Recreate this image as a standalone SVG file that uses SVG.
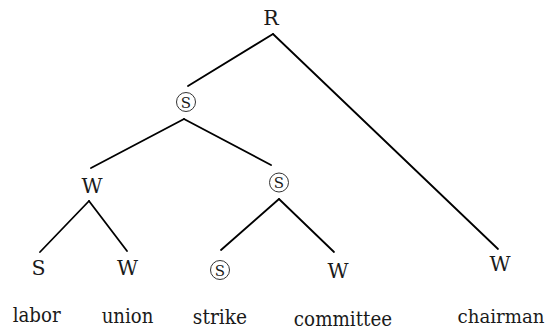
<svg xmlns="http://www.w3.org/2000/svg" width="550" height="329" viewBox="0 0 550 329">
  <style>
    text { font-family: 'DejaVu Serif', serif; fill: #1a1a1a; text-anchor: middle; }
    .lbl { font-size: 20.5px; }
    .word { font-size: 21px; }
    .ring { fill: none; stroke: #333; stroke-width: 1; }
    .ringtxt { font-size: 15px; }
    .edge { stroke: #000; stroke-width: 1.8; fill: none; stroke-linecap: round; }
  </style>
  <rect width="550" height="329" fill="#fff"/>

  <!-- tree edges -->
  <g id="connectors">
    <line class="edge" x1="273" y1="34" x2="188" y2="86"/>
    <line class="edge" x1="273" y1="34" x2="498" y2="249"/>
    <line class="edge" x1="184" y1="119" x2="91" y2="168"/>
    <line class="edge" x1="184" y1="119" x2="271" y2="165"/>
    <line class="edge" x1="89" y1="201" x2="40" y2="252"/>
    <line class="edge" x1="89" y1="201" x2="127" y2="251"/>
    <line class="edge" x1="279" y1="199" x2="221" y2="250"/>
    <line class="edge" x1="279" y1="199" x2="334" y2="252"/>
  </g>

  <g id="root-R">
    <text class="lbl" x="271" y="24.5">R</text>
  </g>
  <g id="s-upper">
    <circle class="ring" cx="186" cy="102" r="9.5"/>
    <text class="ringtxt" x="186" y="107.5">S</text>
  </g>
  <g id="w-mid">
    <text class="lbl" x="92" y="193">W</text>
  </g>
  <g id="s-mid">
    <circle class="ring" cx="279" cy="182.5" r="9.5"/>
    <text class="ringtxt" x="279" y="188">S</text>
  </g>
  <g id="leaf-labor">
    <text class="lbl" x="38.5" y="275">S</text>
    <text class="word" x="36.7" y="321.5" textLength="48" lengthAdjust="spacingAndGlyphs">labor</text>
  </g>
  <g id="leaf-union">
    <text class="lbl" x="127.5" y="275">W</text>
    <text class="word" x="127.5" y="323" textLength="51.6" lengthAdjust="spacingAndGlyphs">union</text>
  </g>
  <g id="leaf-strike">
    <circle class="ring" cx="220" cy="270" r="9.5"/>
    <text class="ringtxt" x="220" y="275.5">S</text>
    <text class="word" x="220" y="324" textLength="54.3" lengthAdjust="spacingAndGlyphs">strike</text>
  </g>
  <g id="leaf-committee">
    <text class="lbl" x="338" y="277.5">W</text>
    <text class="word" x="343" y="325.5" textLength="98.3" lengthAdjust="spacingAndGlyphs">committee</text>
  </g>
  <g id="leaf-chairman">
    <text class="lbl" x="500" y="271">W</text>
    <text class="word" x="501" y="323" style="font-size:19px" textLength="87" lengthAdjust="spacingAndGlyphs">chairman</text>
  </g>
</svg>
